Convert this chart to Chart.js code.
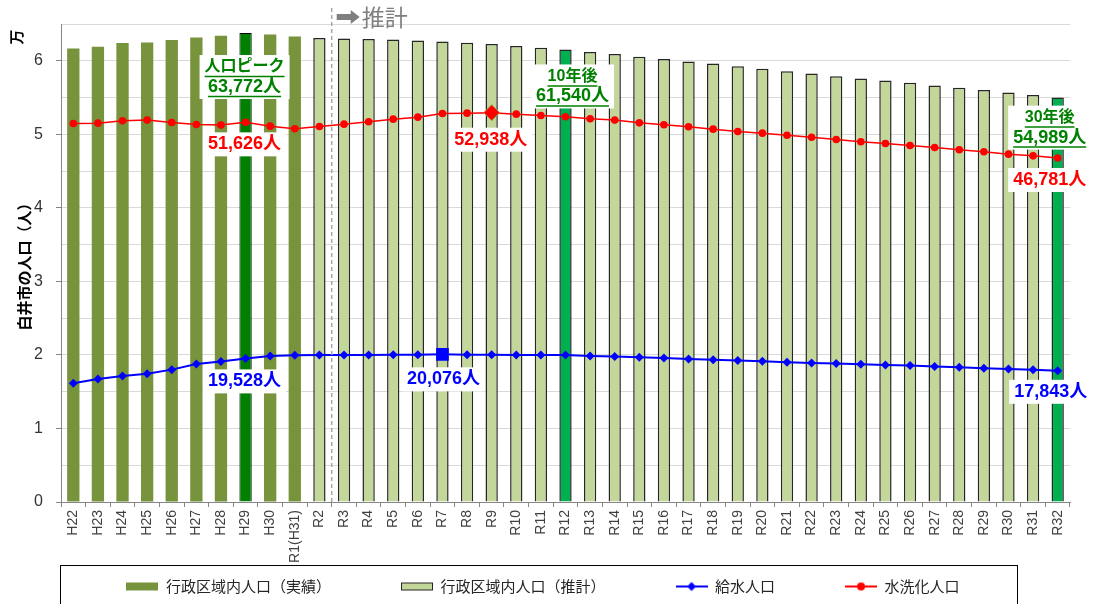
<!DOCTYPE html>
<html lang="ja">
<head>
<meta charset="utf-8">
<title>白井市の人口推計</title>
<script src="https://cdn.jsdelivr.net/npm/chart.js@4/dist/chart.umd.min.js"></script>
<style>
  html, body { margin: 0; padding: 0; background: #ffffff; }
  #wrap { width: 1094px; height: 604px; position: relative; }
</style>
</head>
<body>
<div id="wrap"><canvas id="chart" width="1094" height="604"></canvas></div>
<script>
// 年度（H22〜R32）
const years = [
  'H22', 'H23', 'H24', 'H25', 'H26', 'H27', 'H28', 'H29', 'H30', 'R1(H31)',
  'R2', 'R3', 'R4', 'R5', 'R6', 'R7', 'R8', 'R9', 'R10', 'R11',
  'R12', 'R13', 'R14', 'R15', 'R16', 'R17', 'R18', 'R19', 'R20', 'R21',
  'R22', 'R23', 'R24', 'R25', 'R26', 'R27', 'R28', 'R29', 'R30', 'R31', 'R32'
];

// 行政区域内人口（実績）H22〜R1
const actualPop = [61680, 61900, 62400, 62490, 62810, 63170, 63400, 63772, 63580, 63310];

// 行政区域内人口（推計）R2〜R32
const estimatedPop = [
  63080, 63040, 62950, 62900, 62770, 62630, 62450, 62270, 62000, 61770,
  61540, 61180, 60910, 60540, 60230, 59910, 59640, 59270, 58910, 58590,
  58280, 57910, 57600, 57320, 57010, 56640, 56330, 56010, 55690, 55330,
  54989
];

// 給水人口 H22〜R32
const waterPop = [
  16150, 16730, 17140, 17450, 18000, 18770, 19090, 19528, 19860, 19950,
  20000, 20000, 20000, 20030, 20040, 20076, 20040, 20030, 20000, 20000,
  19990, 19860, 19770, 19680, 19590, 19450, 19360, 19230, 19140, 19000,
  18910, 18820, 18730, 18640, 18550, 18410, 18320, 18180, 18090, 18000,
  17843
];

// 水洗化人口 H22〜R32
const sewerPop = [
  51470, 51520, 51840, 51930, 51610, 51340, 51250, 51626, 51110, 50750,
  51070, 51380, 51700, 52060, 52330, 52830, 52880, 52938, 52740, 52560,
  52380, 52110, 51930, 51560, 51290, 51020, 50700, 50380, 50160, 49880,
  49610, 49300, 48980, 48750, 48480, 48210, 47890, 47620, 47300, 47070,
  46781
];

// y軸目盛（万人）
const yTicks = [0, 1, 2, 3, 4, 5, 6];
const yUnit = 10000;

const peakYear = 'H29';
const milestoneYears = ['R12', 'R32'];
const forecastStart = 'R2';
const waterMarkYear = 'R7';
const sewerMarkYear = 'R9';

const OLIVE = '#77933C';
const LIGHT = '#C4D79B';
const DARK_GREEN = '#008000';
const BRIGHT_GREEN = '#00B050';
const BLUE = '#0000FF';
const RED = '#FF0000';
const JP = '"Liberation Sans", "Noto Sans CJK JP", sans-serif';

const LEGEND_FONT = 15;
const LEGEND_GAP = 70;
const LEGEND_SHIFT = 8;

const nActual = actualPop.length;
const actualSeries = years.map((y, i) => i < nActual ? actualPop[i] : null);
const estimatedSeries = years.map((y, i) => i < nActual ? null : estimatedPop[i - nActual]);

const fmt = v => v.toLocaleString('en-US');

// 凡例の図形
function swatch(draw) {
  const c = document.createElement('canvas');
  c.width = 32; c.height = 12;
  draw(c.getContext('2d'));
  return c;
}
const legendItems = [
  { text: '行政区域内人口（実績）', img: swatch(g => { g.fillStyle = OLIVE; g.fillRect(0, 2, 32, 8); }) },
  { text: '行政区域内人口（推計）', img: swatch(g => {
      g.fillStyle = LIGHT; g.fillRect(0.5, 2.5, 31, 7);
      g.strokeStyle = '#262626'; g.lineWidth = 1; g.strokeRect(0.5, 2.5, 31, 7);
    }) },
  { text: '給水人口', img: swatch(g => {
      g.strokeStyle = BLUE; g.lineWidth = 2; g.beginPath(); g.moveTo(0, 6); g.lineTo(32, 6); g.stroke();
      g.fillStyle = BLUE; g.beginPath(); g.moveTo(16, 1.5); g.lineTo(20.5, 6); g.lineTo(16, 10.5); g.lineTo(11.5, 6); g.closePath(); g.fill();
    }) },
  { text: '水洗化人口', img: swatch(g => {
      g.strokeStyle = RED; g.lineWidth = 2; g.beginPath(); g.moveTo(0, 6); g.lineTo(32, 6); g.stroke();
      g.fillStyle = RED; g.beginPath(); g.arc(16, 6, 4, 0, Math.PI * 2); g.fill();
    }) }
];

// 吹き出しラベル
const callouts = [
  { year: 'H29', series: actualSeries, color: DARK_GREEN, underline: true, heading: '人口ピーク', dx: -1, dy: 34 },
  { year: 'R12', series: estimatedSeries, color: DARK_GREEN, underline: true, heading: '10年後', dx: 7, dy: 27 },
  { year: 'R32', series: estimatedSeries, color: DARK_GREEN, underline: true, heading: '30年後', dx: -8, dy: 20 },
  { year: 'H29', series: sewerPop, color: RED, dx: -1, dy: 22 },
  { year: 'R9', series: sewerPop, color: RED, dx: -1, dy: 27 },
  { year: 'R32', series: sewerPop, color: RED, dx: -8, dy: 22 },
  { year: 'H29', series: waterPop, color: BLUE, dx: -1, dy: 23 },
  { year: 'R7', series: waterPop, color: BLUE, dx: 1, dy: 25 },
  { year: 'R32', series: waterPop, color: BLUE, dx: -7, dy: 21 }
];

const decorations = {
  id: 'decorations',
  afterLayout(chart) {
    // 凡例の行を枠の中央へ移す
    const lg = chart.legend;
    if (lg) {
      lg.top = lg.bottom - (LEGEND_FONT + LEGEND_GAP + 10);
      lg.left += LEGEND_SHIFT;
      lg.right += LEGEND_SHIFT;
    }
  },
  afterDatasetsDraw(chart) {
    const { ctx, scales: { x, y }, chartArea } = chart;
    // 推計開始の区切り線
    const iStart = years.indexOf(forecastStart);
    const xs = (x.getPixelForValue(iStart) + x.getPixelForValue(iStart + 1)) / 2;
    ctx.save();
    ctx.strokeStyle = '#A6A6A6';
    ctx.lineWidth = 1.5;
    ctx.setLineDash([4, 3]);
    ctx.beginPath();
    ctx.moveTo(xs, 8);
    ctx.lineTo(xs, chartArea.bottom);
    ctx.stroke();
    ctx.setLineDash([]);
    // ➡推計
    ctx.fillStyle = '#7F7F7F';
    ctx.beginPath();
    const ax = xs + 5, ay = 17;
    ctx.moveTo(ax, ay - 3); ctx.lineTo(ax + 14, ay - 3); ctx.lineTo(ax + 14, ay - 7);
    ctx.lineTo(ax + 23, ay); ctx.lineTo(ax + 14, ay + 7); ctx.lineTo(ax + 14, ay + 3);
    ctx.lineTo(ax, ay + 3); ctx.closePath(); ctx.fill();
    ctx.font = '23px "Noto Sans CJK JP", sans-serif';
    ctx.textAlign = 'left';
    ctx.textBaseline = 'middle';
    ctx.fillText('推計', ax + 25, 17);

    // 値ラベル
    callouts.forEach(c => {
      const idx = years.indexOf(c.year);
      const value = c.series[idx];
      const cx = x.getPixelForValue(idx) + c.dx;
      const top = y.getPixelForValue(value) + c.dy;
      const lines = [];
      if (c.heading) lines.push({ t: c.heading, font: 'bold 16px ' + JP });
      lines.push({ t: fmt(value) + '人', font: 'bold 18px ' + JP });
      let w = 0;
      lines.forEach(l => { ctx.font = l.font; l.w = ctx.measureText(l.t).width; w = Math.max(w, l.w); });
      const bottom = top + (lines.length - 1) * 20;
      ctx.fillStyle = '#FFFFFF';
      ctx.fillRect(cx - w / 2 - 5, top - 12, w + 10, bottom - top + 24);
      ctx.fillStyle = c.color;
      ctx.strokeStyle = c.color;
      ctx.textAlign = 'center';
      ctx.textBaseline = 'middle';
      lines.forEach((l, k) => {
        const ly = top + k * 20;
        ctx.font = l.font;
        ctx.fillText(l.t, cx, ly);
        if (c.underline) {
          ctx.lineWidth = 1.5;
          ctx.beginPath();
          ctx.moveTo(cx - l.w / 2, ly + 9.5);
          ctx.lineTo(cx + l.w / 2, ly + 9.5);
          ctx.stroke();
        }
      });
    });
    ctx.restore();
  },
  afterDraw(chart) {
    const { ctx, chartArea } = chart;
    ctx.save();
    // 単位
    ctx.translate(16, 37);
    ctx.rotate(-Math.PI / 2);
    ctx.font = 'bold 15px "Noto Sans CJK JP", sans-serif';
    ctx.fillStyle = '#000000';
    ctx.textAlign = 'center';
    ctx.textBaseline = 'middle';
    ctx.fillText('万', 0, 0);
    ctx.restore();
    // 凡例の枠
    ctx.save();
    ctx.strokeStyle = '#000000';
    ctx.lineWidth = 1;
    ctx.strokeRect(Math.round(chartArea.left) - 0.5, 565.5, 957, 60);
    ctx.restore();
  }
};

Chart.defaults.font.family = JP;
Chart.defaults.color = '#333333';

new Chart(document.getElementById('chart'), {
  data: {
    labels: years,
    datasets: [
      {
        type: 'line',
        label: '給水人口',
        data: waterPop,
        order: 0,
        borderColor: BLUE,
        backgroundColor: BLUE,
        borderWidth: 2,
        tension: 0,
        pointStyle: c => years[c.dataIndex] === waterMarkYear ? 'rect' : 'rectRot',
        pointRadius: c => years[c.dataIndex] === waterMarkYear ? 9 : 4.5,
        pointBackgroundColor: BLUE,
        pointBorderWidth: 0
      },
      {
        type: 'line',
        label: '水洗化人口',
        data: sewerPop,
        order: 0,
        borderColor: RED,
        backgroundColor: RED,
        borderWidth: 1.5,
        tension: 0,
        pointStyle: c => years[c.dataIndex] === sewerMarkYear ? 'rectRot' : 'circle',
        pointRadius: c => years[c.dataIndex] === sewerMarkYear ? 8 : 3.8,
        pointBackgroundColor: RED,
        pointBorderColor: c => years[c.dataIndex] === sewerMarkYear ? '#A89A4A' : RED,
        pointBorderWidth: c => years[c.dataIndex] === sewerMarkYear ? 1 : 0
      },
      {
        type: 'bar',
        label: '行政区域内人口（実績）',
        data: actualSeries,
        order: 1,
        grouped: false,
        backgroundColor: years.map(y => y === peakYear ? DARK_GREEN : OLIVE),
        borderColor: '#000000',
        borderWidth: years.map(y => y === peakYear ? 1 : 0),
        barPercentage: 0.5,
        categoryPercentage: 1
      },
      {
        type: 'bar',
        label: '行政区域内人口（推計）',
        data: estimatedSeries,
        order: 1,
        grouped: false,
        backgroundColor: years.map(y => milestoneYears.includes(y) ? BRIGHT_GREEN : LIGHT),
        borderColor: '#262626',
        borderWidth: 1.5,
        barPercentage: 0.5,
        categoryPercentage: 1
      }
    ]
  },
  options: {
    responsive: false,
    animation: false,
    events: [],
    layout: { padding: { top: 24, right: 24, bottom: 0, left: 0 } },
    plugins: {
      tooltip: { enabled: false },
      legend: {
        position: 'bottom',
        maxHeight: 38,
        labels: {
          usePointStyle: true,
          pointStyleWidth: 32,
          padding: LEGEND_GAP,
          color: '#262626',
          font: { size: LEGEND_FONT, family: '"Noto Sans CJK JP", sans-serif' },
          generateLabels: () => legendItems.map((it, i) => ({
            text: it.text,
            pointStyle: it.img,
            fillStyle: 'transparent',
            strokeStyle: 'transparent',
            lineWidth: 0,
            hidden: false,
            fontColor: '#262626',
            datasetIndex: i
          }))
        }
      }
    },
    scales: {
      x: {
        offset: true,
        afterFit: s => { s.height = 64; },
        grid: {
          display: true,
          drawOnChartArea: false,
          drawTicks: true,
          tickLength: 5,
          color: '#868686',
          offset: true
        },
        border: { color: '#868686', width: 1 },
        ticks: {
          autoSkip: false,
          minRotation: 90,
          maxRotation: 90,
          padding: 3,
          color: '#404040',
          font: { size: 14 }
        }
      },
      y: {
        min: 0,
        max: 65000,
        afterFit: s => { s.width = 61; },
        grid: {
          color: '#D9D9D9',
          lineWidth: 1,
          drawTicks: true,
          tickLength: 5,
          tickColor: c => (c.tick && yTicks.includes(c.tick.value / yUnit)) ? '#868686' : 'rgba(0,0,0,0)'
        },
        border: { color: '#868686', width: 1 },
        ticks: {
          stepSize: 5000,
          padding: 13,
          color: '#333333',
          font: { size: 16 },
          callback: v => yTicks.includes(v / yUnit) ? String(v / yUnit) : ''
        },
        title: {
          display: true,
          text: '白井市の人口（人）',
          color: '#000000',
          font: { size: 15, weight: 'bold', family: '"Noto Sans CJK JP", sans-serif' },
          padding: { top: 15, bottom: 0 }
        }
      }
    }
  },
  plugins: [decorations]
});
</script>
</body>
</html>
